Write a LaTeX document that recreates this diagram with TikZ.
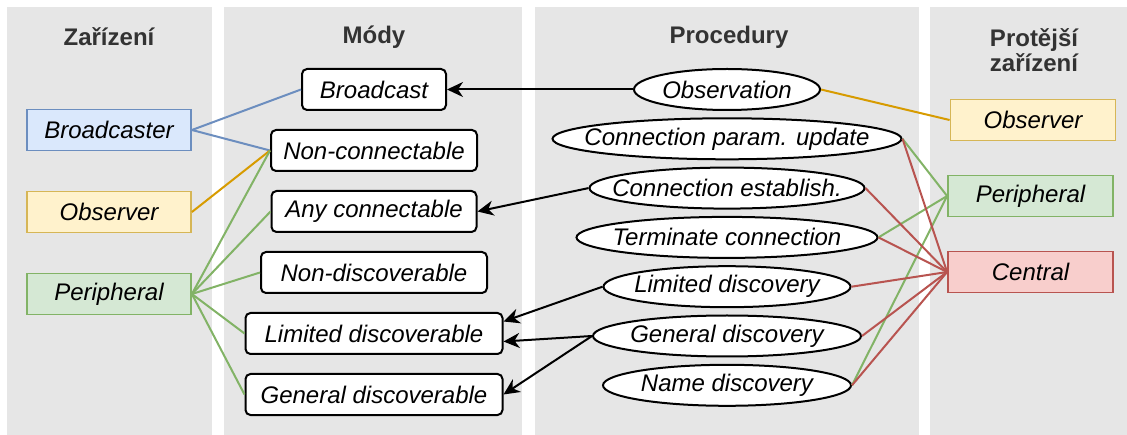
\documentclass[tikz,border=0pt]{standalone}
\usepackage{fontspec}
\setmainfont{Liberation Sans}
\usetikzlibrary{positioning,shapes.geometric,arrows.meta}
\definecolor{panel}{HTML}{E6E6E6}
\definecolor{title}{HTML}{333333}
\definecolor{bluef}{HTML}{DAE8FC}
\definecolor{blued}{HTML}{6C8EBF}
\definecolor{yelf}{HTML}{FFF2CC}
\definecolor{yeld}{HTML}{D6B656}
\definecolor{grnf}{HTML}{D5E8D4}
\definecolor{grnd}{HTML}{82B366}
\definecolor{redf}{HTML}{F8CECC}
\definecolor{redd}{HTML}{B85450}
\definecolor{orng}{HTML}{D79B00}
\newcommand{\ptxt}[1]{\hbox to 0pt{\hss#1\hss}}

\begin{document}
\begin{tikzpicture}[x=1pt, y=-1pt,
  base/.style = {font=\fontsize{24}{28}\selectfont\itshape, line width=2pt, minimum height=41pt, inner sep=0pt},
  dev/.style = {base, draw, line width=1.8pt, minimum width=165pt},
  mode/.style = {base, draw, fill=white, rounded corners=5pt},
  proc/.style = {base, draw, fill=white, ellipse},
  head/.style = {font=\fontsize{24}{25}\selectfont\bfseries, text=title, align=center},
  link/.style = {line width=2pt},
  arr/.style = {line width=2pt, -{Stealth[length=16pt,width=15pt,inset=5pt]}}]
  \useasboundingbox (0,0) rectangle (1127,435);
  \fill[panel] (7,7) rectangle (212,435);
  \fill[panel] (224,7) rectangle (522,435);
  \fill[panel] (535,7) rectangle (919,435);
  \fill[panel] (930,7) rectangle (1127,435);

  \node[head] (t1) at (109,37) {Zařízení};
  \node[head] (t2) at (374,37) {Módy};
  \node[head] (t3) at (729,37) {Procedury};
  \node[head] (t4) at (1034,50) {Protější\\zařízení};

  \node[dev, fill=bluef, draw=blued, minimum width=164pt] (bc) at (109,130) {Broadcaster};
  \node[dev, fill=yelf, draw=yeld, minimum width=164pt] (ob) at (109,212) {Observer};
  \node[dev, fill=grnf, draw=grnd, minimum width=164pt] (pe) at (109,294) {Peripheral};

  \node[mode, minimum width=144pt] (m1) at (374,89.5) {Broadcast};
  \node[mode, minimum width=206pt] (m2) [below=18pt of m1] {Non-connectable};
  \node[mode, minimum width=205pt] (m3) [below=18pt of m2] {Any connectable};
  \node[mode, minimum width=226pt] (m4) [below=18pt of m3] {Non-discoverable};
  \node[mode, minimum width=257pt] (m5) [below=18pt of m4] {Limited discoverable};
  \node[mode, minimum width=257pt] (m6) [below=18pt of m5] {General discoverable};

  \node[proc, minimum width=186pt] (p1) at (727,89.5) {\ptxt{Observation}};
  \node[proc, minimum width=349pt] (p2) [below=6.3pt of p1] {\ptxt{Connection param. update}};
  \node[proc, minimum width=275pt] (p3) [below=6.3pt of p2] {\ptxt{Connection establish.}};
  \node[proc, minimum width=301pt] (p4) [below=6.3pt of p3] {\ptxt{Terminate connection}};
  \node[proc, minimum width=247pt] (p5) [below=6.3pt of p4] {\ptxt{Limited discovery}};
  \node[proc, minimum width=268pt] (p6) [below=6.3pt of p5] {\ptxt{General discovery}};
  \node[proc, minimum width=248pt] (p7) [below=6.3pt of p6] {\ptxt{Name discovery}};

  \node[dev, fill=yelf, draw=yeld] (r1) at (1033,120) {Observer};
  \node[dev, fill=grnf, draw=grnd] (r2) at (1030.5,196) {Peripheral};
  \node[dev, fill=redf, draw=redd] (r3) at (1030.5,272) {Central};

  \draw[link, blued] (bc.east) -- (m1.west);
  \draw[link, blued] (bc.east) -- (m2.west);
  \draw[link, orng] (ob.east) -- (m2.west);
  \draw[link, grnd] (pe.east) -- (m2.west);
  \draw[link, grnd] (pe.east) -- (m3.west);
  \draw[link, grnd] (pe.east) -- (m4.west);
  \draw[link, grnd] (pe.east) -- (m5.west);
  \draw[link, grnd] (pe.east) -- (m6.west);

  \draw[link, orng] (p1.east) -- (r1.west);
  \draw[link, grnd] (p2.east) -- (r2.west);
  \draw[link, grnd] (p4.east) -- (r2.west);
  \draw[link, grnd] (p7.east) -- (r2.west);
  \draw[link, redd] (p2.east) -- (r3.west);
  \draw[link, redd] (p3.east) -- (r3.west);
  \draw[link, redd] (p4.east) -- (r3.west);
  \draw[link, redd] (p5.east) -- (r3.west);
  \draw[link, redd] (p6.east) -- (r3.west);
  \draw[link, redd] (p7.east) -- (r3.west);

  \draw[arr] (p1.west) -- (m1.east);
  \draw[arr] (p3.west) -- (m3.east);
  \draw[arr] (p5.west) -- ([yshift=12pt]m5.east);
  \draw[arr] (p6.west) -- ([yshift=-8pt]m5.east);
  \draw[arr] (p6.west) -- (m6.east);
\end{tikzpicture}
\end{document}
